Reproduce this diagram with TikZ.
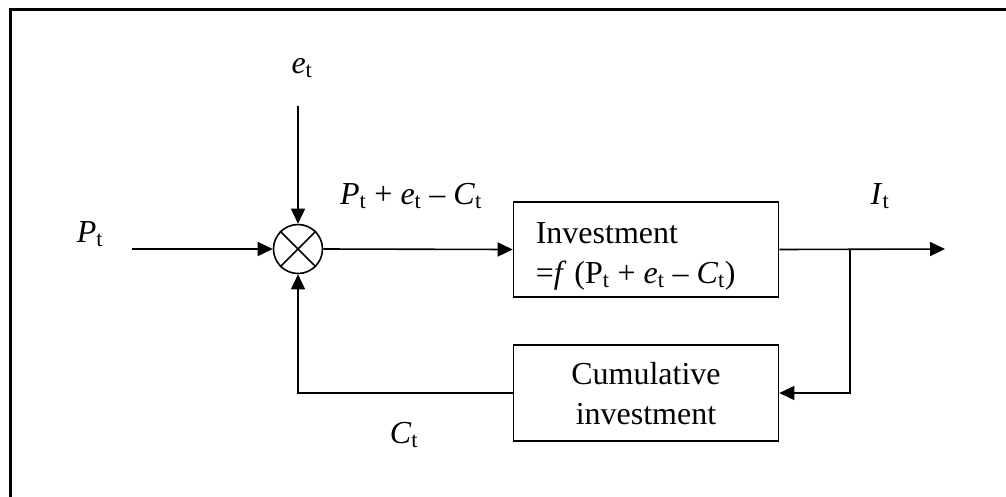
\documentclass[tikz,border=0pt]{standalone}
\usepackage{fontspec}
\setmainfont{Liberation Serif}
\usetikzlibrary{arrows.meta}
\newcommand{\sbt}{\textsubscript{t}}
\begin{document}
\begin{tikzpicture}[x=1pt,y=-1pt,
  line width=1.6pt,
  >={Triangle[length=15pt,width=14pt]},
  font=\fontsize{32}{40}\selectfont,
  blockbox/.style={draw, rectangle, inner sep=0pt},
  lbl/.style={inner sep=0pt, anchor=base},
  flow/.style={->}]
\useasboundingbox (0,0) rectangle (1006,496);
\draw[line width=2.6pt] (10.5,9.5) rectangle (1030,520);
% summing junction
\node[draw, circle, minimum size=49pt, inner sep=0pt] (sum) at (298,249) {};
\draw (sum.45) -- (sum.225) (sum.135) -- (sum.-45);
% blocks
\node[blockbox, minimum width=265pt, minimum height=95pt] (inv) at (646,249.5) {};
\node[lbl, anchor=base west, align=left] (invtxt) at (535,283) {Investment\\=\textit{f} (P\sbt{} + \textit{e}\sbt{} – \textit{C}\sbt)};
\node[blockbox, minimum width=265pt, minimum height=96pt] (cum) at (646,393) {};
\node[lbl, align=center] (cumtxt) at (646,424) {Cumulative\\investment};
% coordinates
\coordinate (pin) at (132,249);
\coordinate (ein) at (298,106);
\coordinate (out) at (945,249);
\coordinate (split) at (850,249);
\coordinate (fbc) at (298,393);
% labels
\node[lbl] (pl) at (90,242) {\textit{P}\sbt};
\node[lbl] (el) at (302,73) {\textit{e}\sbt};
\node[lbl] (sl) at (411,204) {\textit{P}\sbt{} + \textit{e}\sbt{} – \textit{C}\sbt};
\node[lbl] (il) at (880,204) {\textit{I}\sbt};
\node[lbl] (cl) at (404,443) {\textit{C}\sbt};
% connectors
\draw[flow] (pin) -- (sum.west);
\draw[flow] (ein) -- (sum.north);
\draw[flow] (sum.east) -- (inv.west);
\draw[flow] (inv.east) -- (out);
\draw[flow] (split) |- (cum.east);
\draw[flow] (cum.west) -- (fbc) -- (sum.south);
\end{tikzpicture}
\end{document}
